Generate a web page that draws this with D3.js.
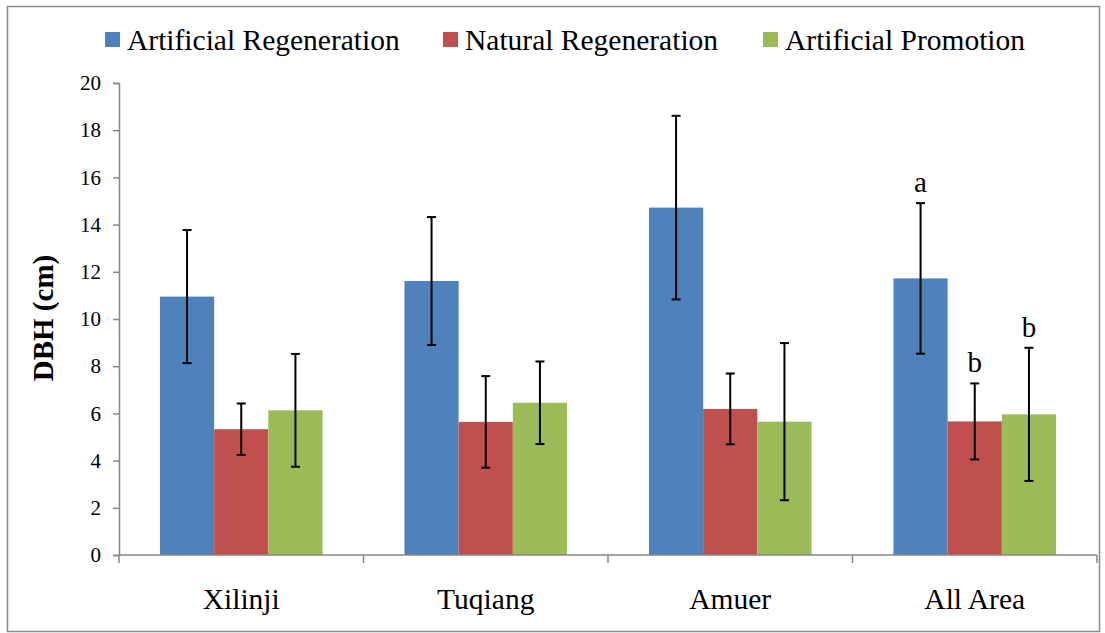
<!DOCTYPE html>
<html lang="en">
<head>
  <meta charset="UTF-8">
  <title>DBH by regeneration type</title>
  <style>
    body { margin: 0; background: #fff; }
    svg { display: block; }
  </style>
</head>
<body>

<div id="chart"></div>

<script src="https://d3js.org/d3.v7.min.js"></script>
<script>

const width = 1105;
const height = 633;
const serif = "Liberation Serif";

// data
const categories = ["Xilinji", "Tuqiang", "Amuer", "All Area"];
const seriesNames = ["Artificial Regeneration", "Natural Regeneration", "Artificial Promotion"];
const seriesColors = ["#4F81BD", "#C0504D", "#9BBB59"];

const artificialMean = [10.95, 11.61, 14.72, 11.72];
const artificialErr  = [2.82, 2.71, 3.89, 3.19];
const naturalMean    = [5.33, 5.64, 6.19, 5.66];
const naturalErr     = [1.09, 1.94, 1.50, 1.61];
const promotionMean  = [6.13, 6.45, 5.65, 5.96];
const promotionErr   = [2.39, 1.75, 3.33, 2.82];

// significance letters, only for "All Area"
const letterCategory = "All Area";
const letters = ["a", "b", "b"];

const yTicks = [0, 2, 4, 6, 8, 10, 12, 14, 16, 18, 20];

const means = [artificialMean, naturalMean, promotionMean];
const errs = [artificialErr, naturalErr, promotionErr];

// flat table for drawing
const rows = [];
categories.forEach((c, i) => {
  seriesNames.forEach((s, j) => {
    rows.push({ category: c, series: s, si: j, value: means[j][i], err: errs[j][i] });
  });
});

const svg = d3.select("#chart").append("svg")
  .attr("width", width)
  .attr("height", height)
  .attr("font-family", serif);

// outer frame
svg.append("rect")
  .attr("x", 7.5).attr("y", 6.5)
  .attr("width", 1092).attr("height", 625)
  .attr("fill", "none")
  .attr("stroke", "#8c8c8c")
  .attr("stroke-width", 1.5);

const x0 = d3.scaleBand()
  .domain(categories)
  .range([119, 1097])
  .paddingInner(0.335)
  .paddingOuter(0.1675);

const x1 = d3.scaleBand()
  .domain(seriesNames)
  .range([0, x0.bandwidth()]);

const y = d3.scaleLinear()
  .domain([0, 20])
  .range([555, 83]);

// bars
svg.append("g").selectAll("rect")
  .data(rows)
  .join("rect")
  .attr("x", d => x0(d.category) + x1(d.series))
  .attr("y", d => y(d.value))
  .attr("width", x1.bandwidth())
  .attr("height", d => y(0) - y(d.value))
  .attr("fill", d => seriesColors[d.si]);

// error bars
const eb = svg.append("g")
  .attr("stroke", "#000")
  .attr("stroke-width", 2);

const cx = d => x0(d.category) + x1(d.series) + x1.bandwidth() / 2;
const capW = 4.5;

eb.selectAll("line.v")
  .data(rows)
  .join("line")
  .attr("class", "v")
  .attr("x1", cx).attr("x2", cx)
  .attr("y1", d => y(d.value + d.err))
  .attr("y2", d => y(d.value - d.err));

eb.selectAll("line.top")
  .data(rows)
  .join("line")
  .attr("class", "top")
  .attr("x1", d => cx(d) - capW).attr("x2", d => cx(d) + capW)
  .attr("y1", d => y(d.value + d.err)).attr("y2", d => y(d.value + d.err));

eb.selectAll("line.bot")
  .data(rows)
  .join("line")
  .attr("class", "bot")
  .attr("x1", d => cx(d) - capW).attr("x2", d => cx(d) + capW)
  .attr("y1", d => y(d.value - d.err)).attr("y2", d => y(d.value - d.err));

// letters above error bars
svg.append("g").selectAll("text")
  .data(rows.filter(d => d.category === letterCategory))
  .join("text")
  .attr("x", cx)
  .attr("y", d => y(d.value + d.err) - 11)
  .attr("text-anchor", "middle")
  .attr("font-family", serif)
  .attr("font-size", 29)
  .attr("fill", "#000")
  .text(d => letters[d.si]);

// y axis
const yAxis = svg.append("g")
  .attr("transform", "translate(119,0)")
  .call(d3.axisLeft(y).tickValues(yTicks).tickSize(6).tickPadding(12));
yAxis.attr("font-family", serif);
yAxis.select(".domain").attr("stroke", "#868686").attr("stroke-width", 1.5);
yAxis.selectAll(".tick line").attr("stroke", "#868686").attr("stroke-width", 1.5);
yAxis.selectAll(".tick text")
  .attr("font-size", 21)
  .attr("font-family", serif)
  .attr("fill", "#000");

// x axis: line with ticks between categories
const xg = svg.append("g");
xg.append("line")
  .attr("x1", 119).attr("x2", 1097)
  .attr("y1", y(0)).attr("y2", y(0))
  .attr("stroke", "#868686").attr("stroke-width", 1.5);

const boundaries = categories.map(c => x0(c) - x0.step() * x0.paddingOuter())
  .concat([1097]);
xg.selectAll("line.tick")
  .data(boundaries)
  .join("line")
  .attr("class", "tick")
  .attr("x1", d => d).attr("x2", d => d)
  .attr("y1", y(0)).attr("y2", y(0) + 8)
  .attr("stroke", "#868686").attr("stroke-width", 1.5);

xg.selectAll("text")
  .data(categories)
  .join("text")
  .attr("x", d => x0(d) + x0.bandwidth() / 2)
  .attr("y", 609)
  .attr("text-anchor", "middle")
  .attr("font-family", serif)
  .attr("font-size", 29.5)
  .attr("fill", "#000")
  .text(d => d);

// y title
svg.append("text")
  .attr("transform", "translate(53,318) rotate(-90)")
  .attr("text-anchor", "middle")
  .attr("font-family", serif)
  .attr("font-size", 29)
  .attr("font-weight", "bold")
  .attr("fill", "#000")
  .text("DBH (cm)");

// legend
const legendX = [105, 443, 763];
const legend = svg.append("g");
seriesNames.forEach((s, i) => {
  legend.append("rect")
    .attr("x", legendX[i]).attr("y", 32)
    .attr("width", 15).attr("height", 15)
    .attr("fill", seriesColors[i]);
  legend.append("text")
    .attr("x", legendX[i] + 22)
    .attr("y", 50)
    .attr("font-family", serif)
    .attr("font-size", 29.5)
    .attr("fill", "#000")
    .text(s);
});

</script>

</body>
</html>
